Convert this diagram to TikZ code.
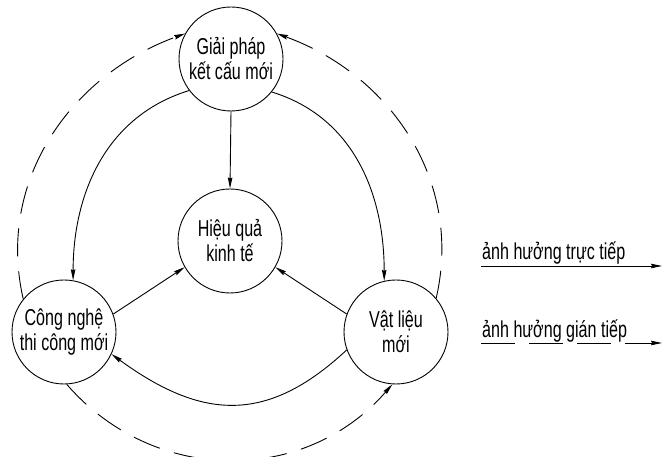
\documentclass[tikz,border=0pt]{standalone}
\usepackage{fontspec}
\setmainfont{Liberation Sans}[FakeStretch=0.7]
\usetikzlibrary{arrows.meta}
\tikzset{
  bubble/.style={circle, draw, line width=0.9pt, minimum size=104pt, inner sep=0pt, align=center, font=\fontsize{23}{25}\selectfont},
  link/.style={line width=0.9pt, -{Stealth[length=11pt,width=4.5pt,inset=1pt]}},
  indirect/.style={link, dash pattern=on 28pt off 15pt},
  legendtext/.style={anchor=base west, inner sep=0pt, font=\fontsize{23}{25}\selectfont},
}
\begin{document}
\begin{tikzpicture}[x=1pt, y=1pt]
\useasboundingbox (0,0) rectangle (662,457);
\node[bubble] (T) at (231,398) {Giải pháp\\kết cấu mới};
\node[bubble] (C) at (230,216) {Hiệu quả\\kinh tế};
\node[bubble] (L) at (64,125) {Công nghệ\\thi công mới};
\node[bubble] (R) at (396,125) {Vật liệu\\mới};
% direct influences
\draw[link] (T.south) -- (C.north);
\draw[link] (L.20) -- (C.210);
\draw[link] (R.160) -- (C.330);
\draw[link] (T.217) to[out=197, in=90] (L.80);
\draw[link] (T.-39) to[out=-17, in=90] (R.103);
\draw[link] (R.200) to[out=223, in=-36, looseness=1.2] (L.-25);
% indirect influences
\draw[indirect] (L.-87) to[out=-49, in=229, looseness=1.05] (R.-94);
\draw[indirect] (L.141) to[out=103, in=200] (T.151);
\draw[indirect] (R.40) to[out=77, in=-20] (T.29);
% legend
\coordinate (a1) at (481,191);
\coordinate (b1) at (662,191);
\coordinate (a2) at (481,114);
\coordinate (b2) at (662,114);
\node[legendtext] (t1) at (482,197) {ảnh hưởng trực tiếp};
\node[legendtext] (t2) at (482,119) {ảnh hưởng gián tiếp};
\draw[link] (a1) -- (b1);
\draw[indirect, dash pattern=on 34pt off 14pt] (a2) -- (b2);
\end{tikzpicture}
\end{document}
